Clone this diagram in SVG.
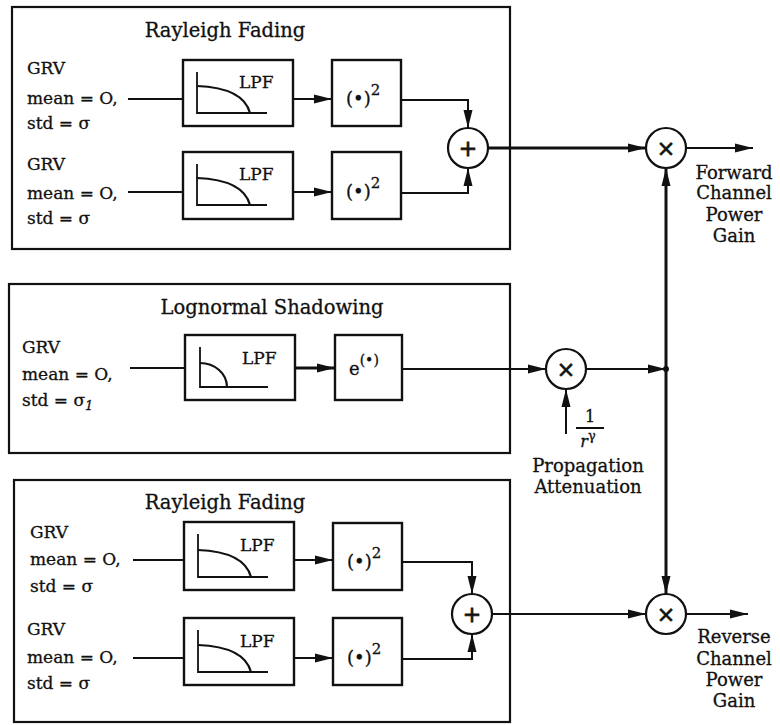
<svg xmlns="http://www.w3.org/2000/svg" width="780" height="725" viewBox="0 0 780 725">
<defs>
<style>
text{font-family:"DejaVu Serif","Liberation Serif",serif;fill:#111;stroke:#111;stroke-width:0.3}
.t{font-size:19.5px}
.l{font-size:17px}
.r{font-size:18px}
.q{font-size:18px}
.f{font-size:16px}
.frame{fill:none;stroke:#111;stroke-width:2.2}
.blk{fill:#fff;stroke:#111;stroke-width:2.4}
.ax{fill:none;stroke:#111;stroke-width:1.8}
.cv{fill:none;stroke:#111;stroke-width:2.2}
.ln{fill:none;stroke:#111;stroke-width:2}
.thick{stroke-width:3}
.op{fill:#fff;stroke:#111;stroke-width:2.2}
.sym{font-size:22px;text-anchor:middle;stroke-width:0.8}
</style>
<marker id="ah" viewBox="0 0 18 10" refX="18" refY="5" markerWidth="18" markerHeight="10" markerUnits="userSpaceOnUse" orient="auto">
<path d="M0 0.5 L18 5 L0 9.5 Z" fill="#111"/>
</marker>
</defs>

<!-- frames -->
<g id="rayleigh-top">
<rect class="frame" x="12" y="7" width="498" height="242"/>
<text class="t" x="225" y="37" text-anchor="middle">Rayleigh Fading</text>
</g>
<g id="shadowing">
<rect class="frame" x="9" y="284" width="501" height="169"/>
<text class="t" x="272" y="314" text-anchor="middle">Lognormal Shadowing</text>
</g>
<g id="rayleigh-bottom">
<rect class="frame" x="14" y="480" width="496" height="242"/>
<text class="t" x="225" y="509" text-anchor="middle">Rayleigh Fading</text>
</g>

<!-- GRV labels -->
<g id="grv1"><text x="27" y="74" class="l">GRV</text><text x="27" y="104" class="l">mean = O,</text><text x="27" y="129" class="l">std =  σ</text></g>
<g id="grv2"><text x="27" y="170" class="l">GRV</text><text x="27" y="199" class="l">mean = O,</text><text x="27" y="224" class="l">std =  σ</text></g>
<g id="grv3"><text x="22" y="353" class="l">GRV</text><text x="22" y="380" class="l">mean = O,</text><text x="22" y="406" class="l">std =  σ<tspan font-style="italic" font-size="13" dy="4">1</tspan></text></g>
<g id="grv4"><text x="30" y="538" class="l">GRV</text><text x="30" y="565" class="l">mean = O,</text><text x="30" y="592" class="l">std =  σ</text></g>
<g id="grv5"><text x="27" y="635" class="l">GRV</text><text x="27" y="663" class="l">mean = O,</text><text x="27" y="689" class="l">std =  σ</text></g>

<!-- LPF blocks -->
<g id="lpf1" transform="translate(183,60)">
<rect class="blk" width="110" height="66"/>
<path class="ax" d="M14 12 V53 H84"/>
<path class="cv" d="M14 26 C40 27 62 34 67 53"/>
<text class="l" x="56" y="28">LPF</text>
</g>
<g id="lpf2" transform="translate(183,152)">
<rect class="blk" width="110" height="67"/>
<path class="ax" d="M14 12 V53 H84"/>
<path class="cv" d="M14 26 C40 27 62 34 67 53"/>
<text class="l" x="56" y="28">LPF</text>
</g>
<g id="lpf3" transform="translate(185,335)">
<rect class="blk" width="110" height="65"/>
<path class="ax" d="M15 12 V52 H83"/>
<path class="cv" d="M15 28 A27 24 0 0 1 42 52"/>
<text class="l" x="57" y="29">LPF</text>
</g>
<g id="lpf4" transform="translate(184,522)">
<rect class="blk" width="110" height="68"/>
<path class="ax" d="M14 12 V55 H84"/>
<path class="cv" d="M14 28 C40 29 62 36 67 55"/>
<text class="l" x="56" y="29">LPF</text>
</g>
<g id="lpf5" transform="translate(184,618)">
<rect class="blk" width="110" height="67"/>
<path class="ax" d="M14 12 V54 H84"/>
<path class="cv" d="M14 27 C40 28 62 35 67 54"/>
<text class="l" x="56" y="29">LPF</text>
</g>

<!-- square / exp blocks -->
<g id="sq1"><rect class="blk" x="332" y="60" width="69" height="66"/><text class="q" x="346" y="105">(•)<tspan font-size="15" dy="-10">2</tspan></text></g>
<g id="sq2"><rect class="blk" x="332" y="152" width="69" height="67"/><text class="q" x="346" y="198">(•)<tspan font-size="15" dy="-10">2</tspan></text></g>
<g id="exp"><rect class="blk" x="335" y="335" width="67" height="65"/><text class="q" x="349" y="375">e<tspan font-size="14" dy="-10">(•)</tspan></text></g>
<g id="sq3"><rect class="blk" x="333" y="523" width="69" height="67"/><text class="q" x="347" y="568">(•)<tspan font-size="15" dy="-10">2</tspan></text></g>
<g id="sq4"><rect class="blk" x="333" y="618" width="69" height="67"/><text class="q" x="347" y="664">(•)<tspan font-size="15" dy="-10">2</tspan></text></g>

<!-- connectors -->
<g id="connectors">
<path class="ln" d="M128 99 H183"/>
<path class="ln" d="M128 192 H183"/>
<path class="ln" d="M130 368 H185"/>
<path class="ln" d="M133 560 H184"/>
<path class="ln" d="M133 658 H184"/>
<path class="ln" d="M293 99 H332" marker-end="url(#ah)"/>
<path class="ln" d="M293 192 H332" marker-end="url(#ah)"/>
<path class="ln thick" d="M295 368 H335" marker-end="url(#ah)"/>
<path class="ln" d="M294 560 H333" marker-end="url(#ah)"/>
<path class="ln" d="M294 658 H333" marker-end="url(#ah)"/>
<path class="ln" d="M401 100 H468 V128" marker-end="url(#ah)"/>
<path class="ln" d="M401 193 H468 V168" marker-end="url(#ah)"/>
<path class="ln thick" d="M488 148 H646" marker-end="url(#ah)"/>
<path class="ln" d="M686 148 H753" marker-end="url(#ah)"/>
<path class="ln" d="M402 369 H546" marker-end="url(#ah)"/>
<path class="ln" d="M586 369 H666" marker-end="url(#ah)"/>
<circle cx="666" cy="369" r="3" fill="#111"/>
<path class="ln" d="M566 434 V389" marker-end="url(#ah)"/>
<path class="ln thick" d="M666 369 V168" marker-end="url(#ah)"/>
<path class="ln thick" d="M666 369 V594" marker-end="url(#ah)"/>
<path class="ln" d="M402 562 H472 V594" marker-end="url(#ah)"/>
<path class="ln" d="M402 659 H472 V634" marker-end="url(#ah)"/>
<path class="ln" d="M492 614 H646" marker-end="url(#ah)"/>
<path class="ln" d="M686 614 H748" marker-end="url(#ah)"/>
</g>

<!-- operators -->
<g id="sum1"><circle class="op" cx="468" cy="148" r="20"/><text class="sym" x="468" y="156">+</text></g>
<g id="mul1"><circle class="op" cx="666" cy="148" r="20"/><text class="sym" x="666" y="156">×</text></g>
<g id="mul2"><circle class="op" cx="566" cy="369" r="20"/><text class="sym" x="566" y="377">×</text></g>
<g id="sum2"><circle class="op" cx="472" cy="614" r="20"/><text class="sym" x="472" y="622">+</text></g>
<g id="mul3"><circle class="op" cx="666" cy="614" r="20"/><text class="sym" x="666" y="622">×</text></g>

<!-- propagation attenuation -->
<g id="atten">
<text class="f" x="590" y="422" text-anchor="middle">1</text>
<path class="ln" d="M576 428 H604"/>
<text class="f" x="588" y="447" text-anchor="middle" font-style="italic">r<tspan font-style="normal" font-size="13" dy="-7">γ</tspan></text>
<text class="r" x="588" y="472" text-anchor="middle">Propagation</text>
<text class="r" x="588" y="493" text-anchor="middle">Attenuation</text>
</g>

<!-- outputs -->
<g id="fwd">
<text class="r" x="734" y="179" text-anchor="middle">Forward</text>
<text class="r" x="734" y="199" text-anchor="middle">Channel</text>
<text class="r" x="734" y="221" text-anchor="middle">Power</text>
<text class="r" x="734" y="242" text-anchor="middle">Gain</text>
</g>
<g id="rev">
<text class="r" x="734" y="643" text-anchor="middle">Reverse</text>
<text class="r" x="734" y="665" text-anchor="middle">Channel</text>
<text class="r" x="734" y="686" text-anchor="middle">Power</text>
<text class="r" x="734" y="707" text-anchor="middle">Gain</text>
</g>
</svg>
